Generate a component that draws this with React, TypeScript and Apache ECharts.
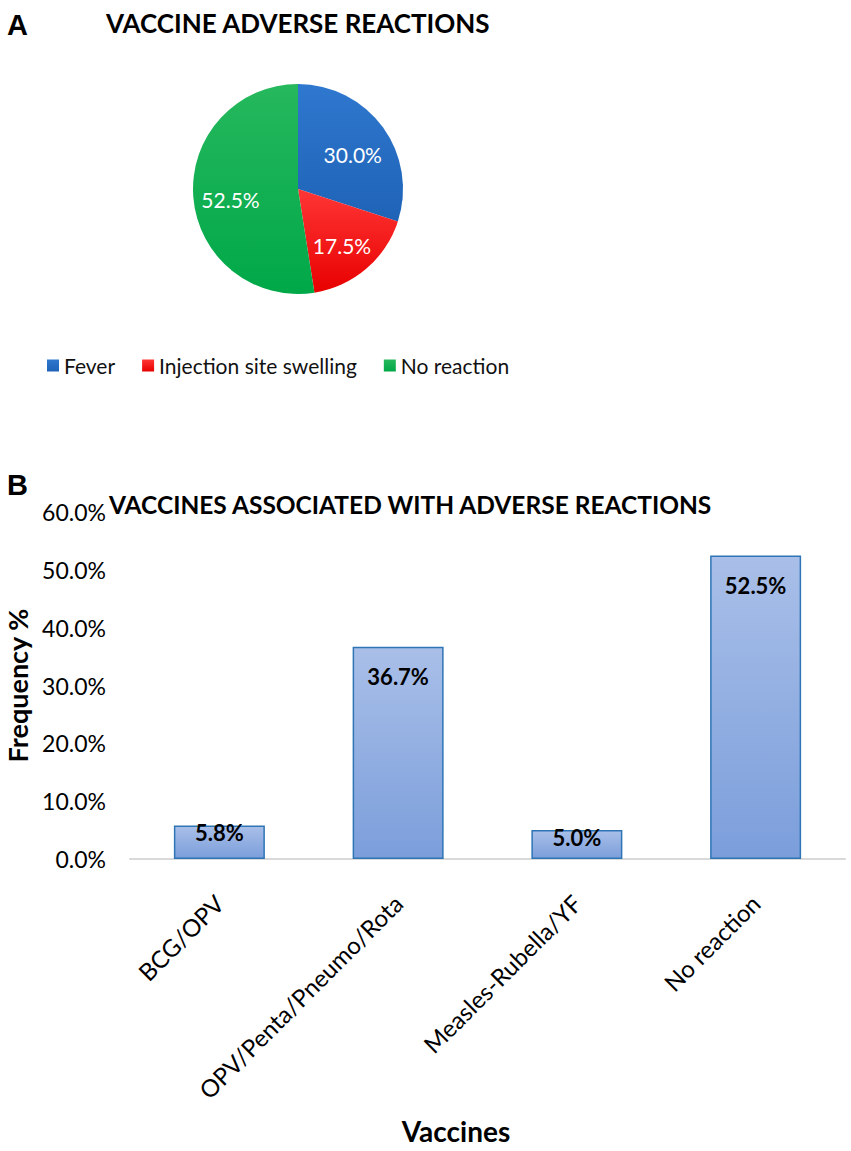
import React, { useEffect, useRef } from "react";
import * as echarts from "echarts";

const pieNames = ["Fever", "Injection site swelling", "No reaction"];
const pieValues = [30.0, 17.5, 52.5];

const barCategories = ["BCG/OPV", "OPV/Penta/Pneumo/Rota", "Measles-Rubella/YF", "No reaction"];
const barValues = [5.8, 36.7, 5.0, 52.5];

const yTicks = { min: 0, max: 60, interval: 10 };

const FONT = "Lato";

const pieColors = [
  ["#2f78cf", "#1e63b6"],
  ["#ff3636", "#e80000"],
  ["#26b85d", "#00a848"],
];

const PIE_CENTER: [number, number] = [298, 189];
const PIE_RADIUS = 105;

export default function App() {
  const ref = useRef<HTMLDivElement>(null);
  useEffect(() => {
    if (!ref.current) return;
    const chart = echarts.init(ref.current, null, { renderer: "svg" });
    const grad = (c: string[]) =>
      new echarts.graphic.LinearGradient(0, 0, 0, 1, [
        { offset: 0, color: c[0] },
        { offset: 1, color: c[1] },
      ]);
    chart.setOption({
      animation: false,
      backgroundColor: "#ffffff",
      title: [
        { text: "A", left: 7, top: 10, padding: 0, textStyle: { fontFamily: "Liberation Sans", fontSize: 29, fontWeight: "bold", color: "#000" } },
        { text: "VACCINE ADVERSE REACTIONS", left: 106, top: 10, padding: 0, textStyle: { fontFamily: FONT, fontSize: 26, fontWeight: "bold", color: "#000" } },
        { text: "B", left: 7, top: 470, padding: 0, textStyle: { fontFamily: "Liberation Sans", fontSize: 29, fontWeight: "bold", color: "#000" } },
        { text: "VACCINES ASSOCIATED WITH ADVERSE REACTIONS", left: 109, top: 492, padding: 0, textStyle: { fontFamily: FONT, fontSize: 24.5, fontWeight: "bold", color: "#000" } },
      ],
      legend: {
        data: pieNames,
        left: 47,
        top: 355,
        padding: 0,
        itemWidth: 12,
        itemHeight: 12,
        itemGap: 27,
        icon: "rect",
        textStyle: { fontFamily: FONT, fontSize: 21, color: "#111" },
      },
      grid: { left: 130, right: 6, top: 512, bottom: 292, containLabel: false, outerBoundsMode: "none" },
      xAxis: {
        type: "category",
        data: barCategories,
        axisLine: { lineStyle: { color: "#d9d9d9", width: 2 } },
        axisTick: { show: false },
        axisLabel: { rotate: 45, margin: 40, fontFamily: FONT, fontSize: 24, color: "#000", interval: 0 },
        name: "Vaccines",
        nameLocation: "middle",
        nameGap: 258,
        nameTextStyle: { fontFamily: FONT, fontSize: 28, fontWeight: "bold", color: "#000", padding: [0, 63, 0, 0] },
      },
      yAxis: {
        type: "value",
        min: yTicks.min,
        max: yTicks.max,
        interval: yTicks.interval,
        splitLine: { show: false },
        axisLine: { show: false },
        axisTick: { show: false },
        axisLabel: { margin: 24, fontFamily: FONT, fontSize: 23, color: "#000", formatter: (v: number) => v.toFixed(1) + "%" },
        name: "Frequency %",
        nameLocation: "middle",
        nameRotate: 90,
        nameGap: 97,
        nameTextStyle: { fontFamily: FONT, fontSize: 27, fontWeight: "bold", color: "#000" },
      },
      series: [
        {
          type: "pie",
          center: PIE_CENTER,
          radius: [0, PIE_RADIUS],
          startAngle: 90,
          clockwise: true,
          data: pieNames.map((n, i) => ({
            name: n,
            value: pieValues[i],
            itemStyle: { color: grad(pieColors[i]) },
          })),
          label: {
            show: true,
            position: "inside",
            formatter: (p: any) => p.value.toFixed(1) + "%",
            color: "#fff",
            fontFamily: FONT,
            fontSize: 21,
          },
          labelLayout: (p: any) => {
            const r = p.labelRect;
            const cx = r.x + r.width / 2;
            const cy = r.y + r.height / 2;
            return {
              x: PIE_CENTER[0] + (cx - PIE_CENTER[0]) * 1.22,
              y: PIE_CENTER[1] + (cy - PIE_CENTER[1]) * 1.22 + 5,
            };
          },
          itemStyle: { borderWidth: 0 },
          emphasis: { disabled: true },
        },
        {
          type: "bar",
          data: barValues.map((v) => ({
            value: v,
            label: { distance: v < 10 ? -4 : 19 },
          })),
          barWidth: 91,
          itemStyle: {
            color: new echarts.graphic.LinearGradient(0, 0, 0, 1, [
              { offset: 0, color: "#a9bfe8" },
              { offset: 1, color: "#7b9edb" },
            ]),
            borderColor: "#2e75b6",
            borderWidth: 1.5,
          },
          label: {
            show: true,
            position: "insideTop",
            formatter: (p: any) => p.value.toFixed(1) + "%",
            fontFamily: FONT,
            fontSize: 22,
            fontWeight: "bold",
            color: "#000",
          },
          emphasis: { disabled: true },
        },
      ],
    });
    return () => chart.dispose();
  }, []);
  return <div ref={ref} style={{ position: "fixed", left: 0, top: 0, width: 851, height: 1151 }} />;
}
